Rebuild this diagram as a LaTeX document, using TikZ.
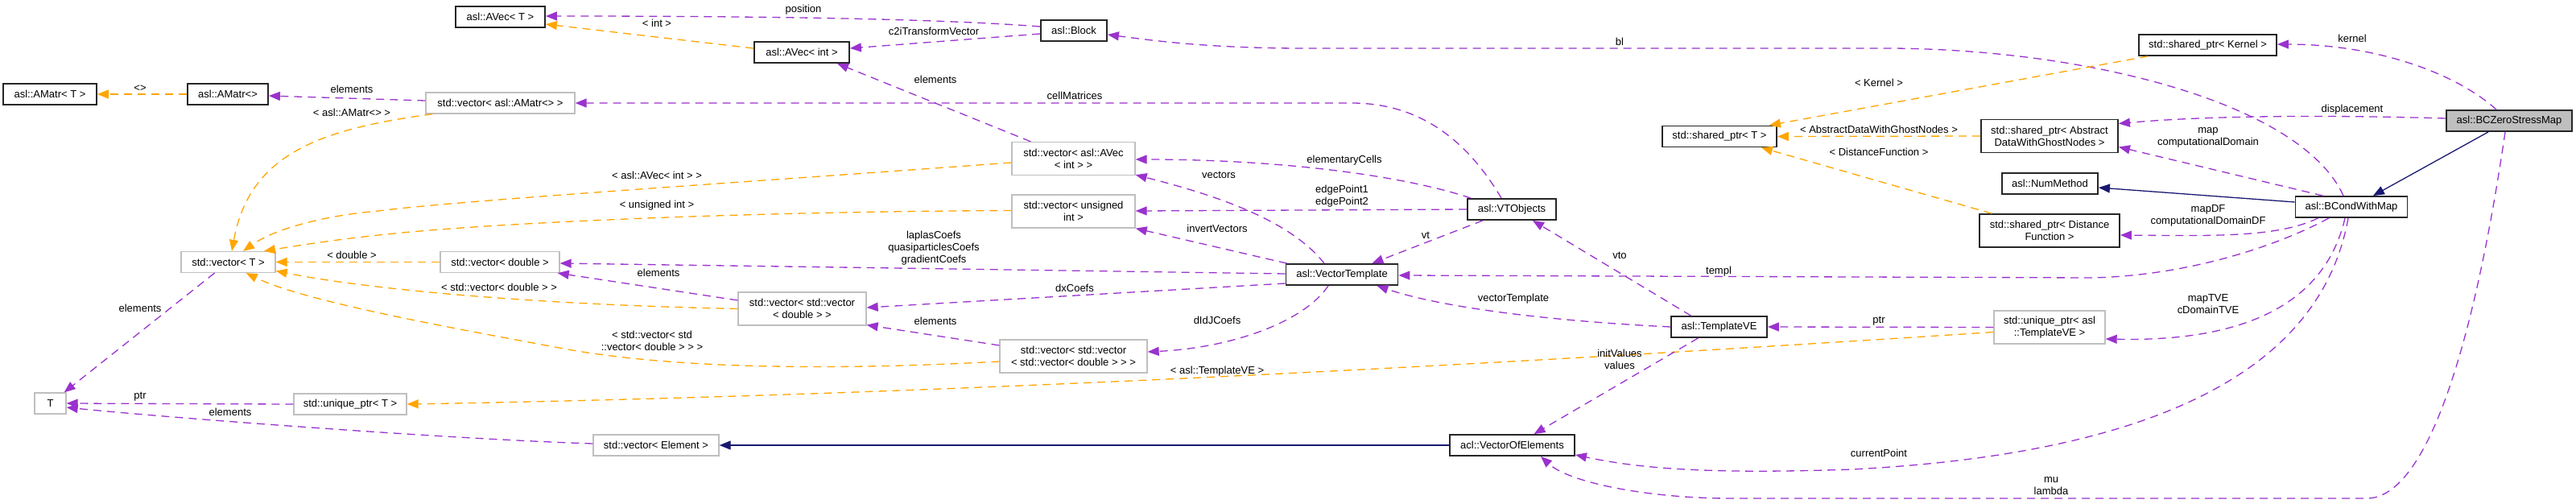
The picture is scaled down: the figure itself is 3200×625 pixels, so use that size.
\documentclass[tikz,border=0pt]{standalone}
\usepackage{fontspec}
\setmainfont{Liberation Sans}
\usetikzlibrary{arrows.meta,calc}
\definecolor{pur}{HTML}{9A32CD}
\definecolor{org}{HTML}{FFA500}
\definecolor{nav}{HTML}{191970}
\definecolor{gbd}{HTML}{BFBFBF}
\begin{document}
\begin{tikzpicture}[x=1pt,y=-1pt,
  box/.style={draw=black!85, line width=1.8pt, minimum height=26pt, inner sep=1pt, align=center, fill=white, font=\fontsize{13}{15}\selectfont},
  gbox/.style={box, draw=gbd, line width=1.3pt},
  tall/.style={minimum height=41pt},
  pe/.style={draw=pur, line width=1.3pt, dash pattern=on 10pt off 7pt, -{Triangle[length=14pt,width=11pt]}},
  oe/.style={draw=org, line width=1.3pt, dash pattern=on 10pt off 7pt, -{Triangle[length=14pt,width=11pt]}},
  ne/.style={draw=nav, line width=1.3pt, -{Triangle[length=14pt,width=11pt]}},
  lbl/.style={font=\fontsize{13}{15}\selectfont, align=center, inner sep=0pt}]
\useasboundingbox (0,0) rectangle (3200,625);
% nodes
\node[box, minimum width=111pt] (avecT) at (621.5,21) {asl::AVec< T >};
\node[box, minimum width=116pt] (amatrT) at (62,117) {asl::AMatr< T >};
\node[box, minimum width=100pt] (amatr) at (283,117) {asl::AMatr<>};
\node[gbox, minimum width=185pt] (vecAmatr) at (621.5,128) {std::vector< asl::AMatr<> >};
\node[box, minimum width=118pt] (avecInt) at (996,65) {asl::AVec< int >};
\node[box, minimum width=82pt] (block) at (1334,38) {asl::Block};
\node[gbox, tall, minimum width=153pt] (vecAvec) at (1333.5,197) {std::vector< asl::AVec\\< int > >};
\node[gbox, tall, minimum width=153pt] (vecUint) at (1333.5,262.5) {std::vector< unsigned\\int >};
\node[gbox, minimum width=117pt] (vecT) at (283.5,325.5) {std::vector< T >};
\node[gbox, minimum width=148pt] (vecDouble) at (621,325.5) {std::vector< double >};
\node[gbox, tall, minimum width=159pt] (vecVecDouble) at (996.5,383.5) {std::vector< std::vector\\< double > >};
\node[gbox, tall, minimum width=183pt] (vecVVVDouble) at (1333.5,442.5) {std::vector< std::vector\\< std::vector< double > > >};
\node[gbox, minimum width=39pt] (Tn) at (62.5,501) {T};
\node[gbox, minimum width=140pt] (uptrT) at (435,502) {std::unique\_ptr< T >};
\node[gbox, minimum width=156pt] (vecElement) at (815,553) {std::vector< Element >};
\node[box, minimum width=110pt] (vtobj) at (1878,260) {asl::VTObjects};
\node[box, minimum width=142pt] (shptrT) at (2136,169.5) {std::shared\_ptr< T >};
\node[box, minimum width=139pt] (vecTempl) at (1667,341) {asl::VectorTemplate};
\node[box, minimum width=119pt] (templVE) at (2135.5,406) {asl::TemplateVE};
\node[box, minimum width=155pt] (vecOfEl) at (1878.5,553) {acl::VectorOfElements};
\node[box, minimum width=171pt] (shptrKernel) at (2742.5,56) {std::shared\_ptr< Kernel >};
\node[box, minimum width=156pt, fill=gbd] (bczero) at (3117,150) {asl::BCZeroStressMap};
\node[box, tall, minimum width=170pt] (shptrADW) at (2546,169) {std::shared\_ptr< Abstract\\DataWithGhostNodes >};
\node[box, minimum width=119pt] (numMethod) at (2546.5,228) {asl::NumMethod};
\node[box, minimum width=139pt] (bcond) at (2921,257) {asl::BCondWithMap};
\node[box, tall, minimum width=174pt] (shptrDF) at (2546,286.5) {std::shared\_ptr< Distance\\Function >};
\node[gbox, tall, minimum width=138pt] (uptrTVE) at (2546,406.5) {std::unique\_ptr< asl\\::TemplateVE >};
% edges
\draw[oe] (amatr.west) -- (amatrT.east);
\draw[pe] ($(vecAmatr.west)+(0,-3)$) -- ($(amatr.east)+(0,2)$);
\draw[oe] ($(vecAmatr.south west)+(9,0)$) .. controls (400,160) and (310,190) .. ($(vecT.north)+(4.5,0)$);
\draw[oe] ($(vecAvec.west)+(0,5)$) .. controls (900,228) and (560,250) .. (470,262) .. controls (400,268) and (340,285) .. ($(vecT.north)+(18.5,0)$);
\draw[oe] ($(vecUint.west)+(0,-1)$) .. controls (900,263) and (600,278) .. (480,291) .. controls (420,297) and (370,305) .. ($(vecT.north)+(44.5,0)$);
\draw[oe] (vecDouble.west) -- (vecT.east);
\draw[oe] (vecVecDouble.west) .. controls (650,378) and (450,358) .. ($(vecT.east)+(0,11)$);
\draw[oe] ($(vecVVVDouble.west)+(0,6.5)$) .. controls (1000,462) and (820,455) .. (700,433) .. controls (560,407) and (380,375) .. ($(vecT.south east)+(-37,0)$);
\draw[pe] ($(vecT.south)+(-17,0)$) -- ($(Tn.north east)+(-3,0)$);
\draw[pe] (uptrT.west) -- (Tn.east);
\draw[pe] ($(vecElement.west)+(0,-2)$) .. controls (550,545) and (200,518) .. ($(Tn.east)+(0,5)$);
\draw[oe] ($(uptrTVE.west)+(0,6)$) .. controls (1900,450) and (1200,490) .. (uptrT.east);
\draw[ne] (vecOfEl.west) -- (vecElement.east);
\draw[oe] ($(avecInt.west)+(0,-5)$) -- ($(avecT.east)+(0,9)$);
\draw[pe] ($(block.west)+(0,-5)$) .. controls (1150,22) and (900,20) .. ($(avecT.east)+(0,-1)$);
\draw[pe] ($(block.west)+(0,4)$) -- ($(avecInt.east)+(0,-5)$);
\draw[pe] ($(vecAvec.north west)+(24,0)$) -- ($(avecInt.south)+(44,0)$);
\draw[pe] ($(vtobj.north)+(-13,0)$) .. controls (1820,170) and (1760,128) .. (1679,128) -- (vecAmatr.east);
\draw[pe] ($(vtobj.north west)+(5,0)$) .. controls (1750,220) and (1600,198) .. ($(vecAvec.east)+(0,1)$);
\draw[pe] (vtobj.west) -- ($(vecUint.east)+(0,-0.5)$);
\draw[pe] ($(vecTempl.north)+(-22,0)$) .. controls (1600,270) and (1500,240) .. ($(vecAvec.south east)+(0,-1)$);
\draw[pe] ($(vecTempl.north west)+(2,0)$) -- (vecUint.south east);
\draw[pe] ($(vecTempl.west)+(0,-1)$) -- ($(vecDouble.east)+(0,1.5)$);
\draw[pe] ($(vecTempl.west)+(0,11)$) -- ($(vecVecDouble.east)+(0,-1.5)$);
\draw[pe] ($(vecTempl.south)+(-17,0)$) .. controls (1620,400) and (1530,432) .. ($(vecVVVDouble.east)+(0,-5.5)$);
\draw[pe] ($(vecVecDouble.west)+(0,-10.5)$) -- ($(vecDouble.south east)+(-3,0)$);
\draw[pe] ($(vecVVVDouble.west)+(0,-13.5)$) -- ($(vecVecDouble.south east)+(0,-1)$);
\draw[pe] ($(vtobj.south)+(-36,0)$) -- ($(vecTempl.north east)+(-33,0)$);
\draw[pe] ($(templVE.north)+(-35,0)$) -- ($(vtobj.south east)+(-30,0)$);
\draw[pe] (templVE.west) .. controls (1950,400) and (1800,385) .. ($(vecTempl.south east)+(-27,0)$);
\draw[pe] ($(templVE.south)+(-26,0)$) -- ($(vecOfEl.north)+(27,0)$);
\draw[pe] (uptrTVE.west) -- (templVE.east);
\draw[pe] ($(bcond.north)+(-10,0)$) .. controls (2860,130) and (2600,62) .. (2351,60) -- (1620,60) .. controls (1500,60) and (1430,50) .. ($(block.east)+(0,5)$);
\draw[pe] ($(bcond.south)+(-28,0)$) .. controls (2830,305) and (2720,342) .. (2600,345) -- ($(vecTempl.east)+(0,1)$);
\draw[pe] ($(bcond.south)+(-8,0)$) .. controls (2890,370) and (2800,425) .. ($(uptrTVE.east)+(0,14.5)$);
\draw[pe] ($(bcond.south)+(-4,0)$) .. controls (2890,420) and (2750,560) .. (2300,583) .. controls (2150,588) and (2050,585) .. ($(vecOfEl.south east)+(0,-2)$);
\draw[pe] ($(bcond.north west)+(35,0)$) -- ($(shptrADW.east)+(0,13.5)$);
\draw[pe] ($(bcond.south west)+(29,0)$) .. controls (2830,295) and (2750,293) .. ($(shptrDF.east)+(0,5.5)$);
\draw[ne] ($(bcond.west)+(0,-6)$) -- ($(numMethod.east)+(0,5)$);
\draw[ne] ($(bczero.south)+(-26,0)$) -- ($(bcond.north east)+(-43.5,0)$);
\draw[pe] ($(bczero.north)+(-16,0)$) .. controls (3050,90) and (2950,55) .. ($(shptrKernel.east)+(0,-1)$);
\draw[pe] ($(bczero.west)+(0,-3)$) .. controls (2900,143) and (2750,143) .. ($(shptrADW.east)+(0,-15.5)$);
\draw[pe] ($(bczero.south)+(-5,0)$) .. controls (3070,450) and (3010,619) .. (2940,619) -- (2150,619) .. controls (2050,619) and (1950,600) .. ($(vecOfEl.south)+(35.5,0)$);
\draw[oe] ($(shptrKernel.south west)+(12,0)$) -- ($(shptrT.north east)+(-10,0)$);
\draw[oe] (shptrADW.west) -- (shptrT.east);
\draw[oe] ($(shptrDF.north west)+(16,0)$) -- ($(shptrT.south east)+(-20,0)$);
% labels
\node[lbl] (l1) at (174,110) {<>};
\node[lbl] (l2) at (437,111) {elements};
\node[lbl] (l3) at (437,140) {< asl::AMatr<> >};
\node[lbl] (l4) at (816,218) {< asl::AVec< int > >};
\node[lbl] (l5) at (816,255) {< unsigned int >};
\node[lbl] (l6) at (437,317) {< double >};
\node[lbl] (l7) at (620,357) {< std::vector< double > >};
\node[lbl] (l8) at (810,423) {< std::vector< std\\::vector< double > > >};
\node[lbl] (l9) at (174,383) {elements};
\node[lbl] (l10) at (174,493) {ptr};
\node[lbl] (l11) at (286,512) {elements};
\node[lbl] (l12) at (1512,461) {< asl::TemplateVE >};
\node[lbl] (l13) at (816,29) {< int >};
\node[lbl] (l14) at (998,12) {position};
\node[lbl] (l15) at (1160,39) {c2iTransformVector};
\node[lbl] (l16) at (1162,99) {elements};
\node[lbl] (l17) at (1335,119) {cellMatrices};
\node[lbl] (l18) at (1670,199) {elementaryCells};
\node[lbl] (l19) at (1667,244) {edgePoint1\\edgePoint2};
\node[lbl] (l20) at (1514,217) {vectors};
\node[lbl] (l21) at (1512,284) {invertVectors};
\node[lbl] (l22) at (1160,308) {laplasCoefs\\quasiparticlesCoefs\\gradientCoefs};
\node[lbl] (l23) at (1335,358) {dxCoefs};
\node[lbl] (l24) at (1512,398) {dIdJCoefs};
\node[lbl] (l25) at (818,339) {elements};
\node[lbl] (l26) at (1162,399) {elements};
\node[lbl] (l27) at (1771,292) {vt};
\node[lbl] (l28) at (2012,317) {vto};
\node[lbl] (l29) at (1880,371) {vectorTemplate};
\node[lbl] (l30) at (2012,446) {initValues\\values};
\node[lbl] (l31) at (2334,399) {ptr};
\node[lbl] (l32) at (2012,52) {bl};
\node[lbl] (l33) at (2135,337) {templ};
\node[lbl] (l34) at (2743,378) {mapTVE\\cDomainTVE};
\node[lbl] (l35) at (2334,563) {currentPoint};
\node[lbl] (l36) at (2743,171) {map\\computationalDomain};
\node[lbl] (l37) at (2743,268) {mapDF\\computationalDomainDF};
\node[lbl] (l38) at (2922,48) {kernel};
\node[lbl] (l39) at (2922,136) {displacement};
\node[lbl] (l40) at (2548,604) {mu\\lambda};
\node[lbl] (l41) at (2334,103) {< Kernel >};
\node[lbl] (l42) at (2334,161) {< AbstractDataWithGhostNodes >};
\node[lbl] (l43) at (2334,189) {< DistanceFunction >};
\end{tikzpicture}
\end{document}
